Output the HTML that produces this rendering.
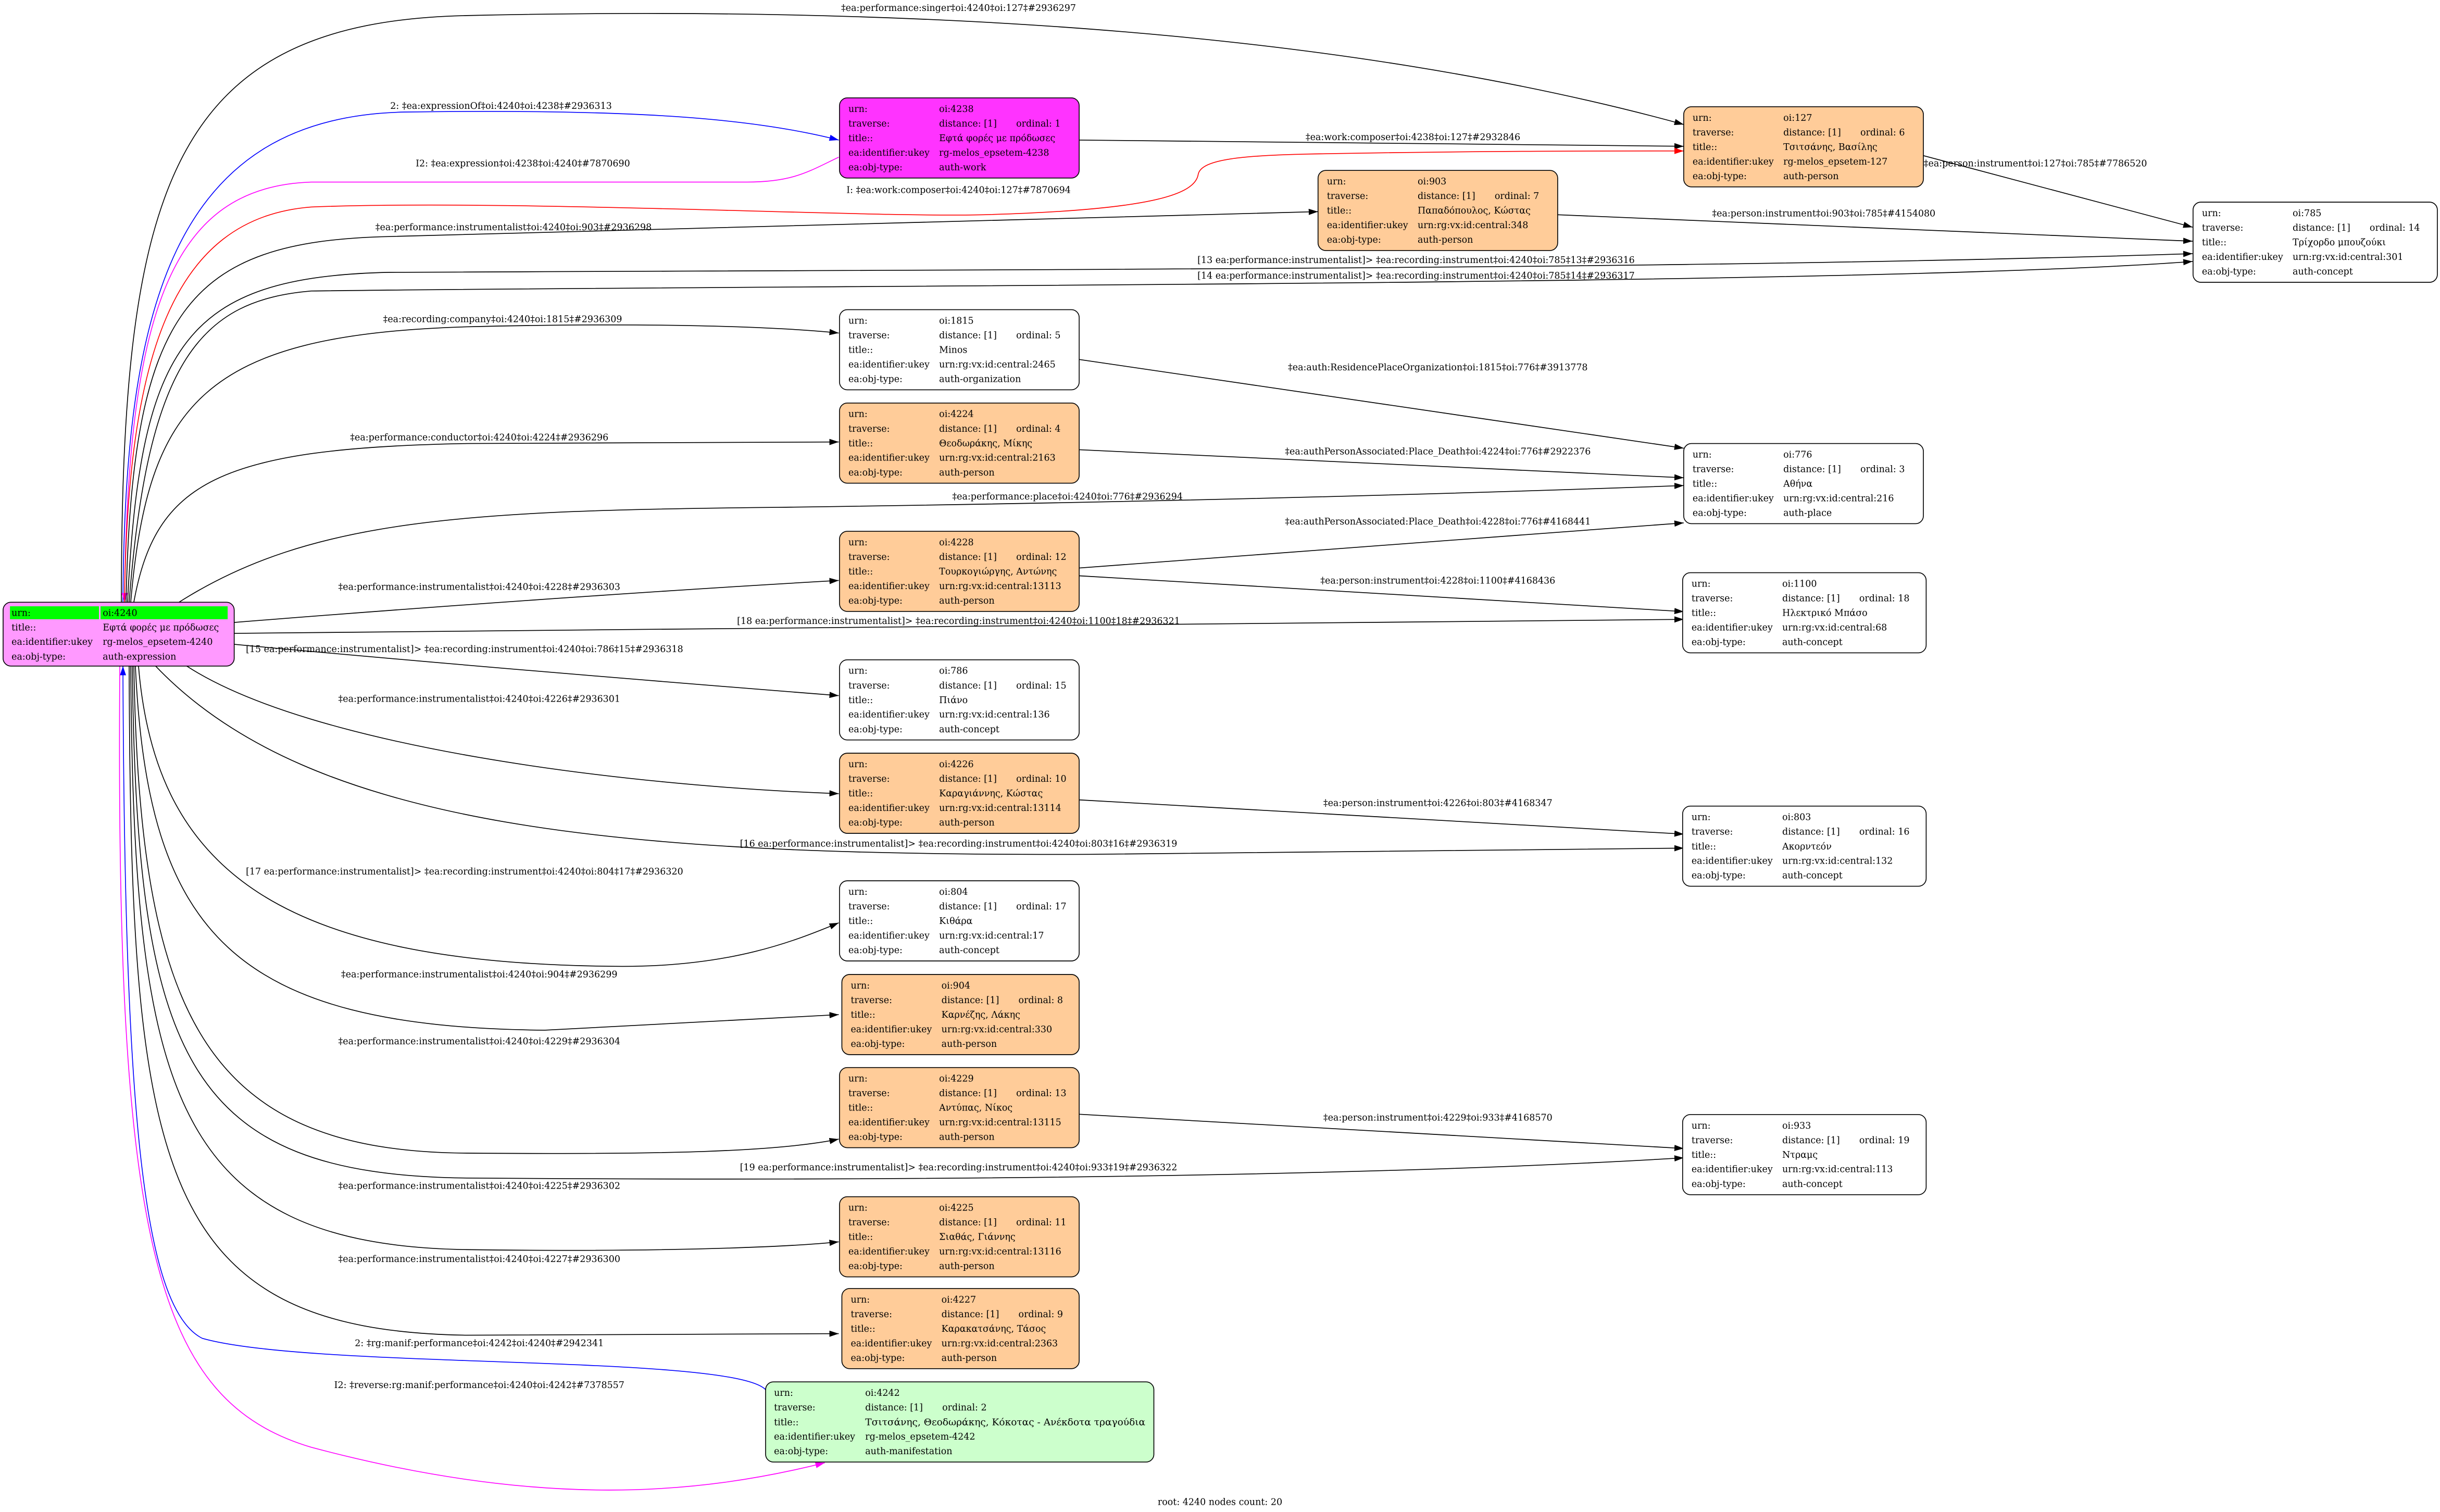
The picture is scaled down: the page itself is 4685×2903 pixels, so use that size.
<!DOCTYPE html>
<html><head><meta charset="utf-8"><style>
html,body{margin:0;padding:0;background:#fff}
svg{display:block}
text{font-family:"DejaVu Serif","Liberation Serif",serif;font-size:5.85px;fill:#000}
.e{fill:none;stroke:#000;stroke-width:0.55}
.n{stroke:#000;stroke-width:0.55}
</style></head><body>
<svg width="4685" height="2903" viewBox="0 0 1568 971.6" preserveAspectRatio="none" xmlns="http://www.w3.org/2000/svg">
<defs>
<marker id="ak" markerUnits="userSpaceOnUse" markerWidth="6" markerHeight="4" refX="6" refY="2" orient="auto"><path d="M0,0L6,2L0,4z" fill="#000"/></marker>
<marker id="ab" markerUnits="userSpaceOnUse" markerWidth="6" markerHeight="4" refX="6" refY="2" orient="auto"><path d="M0,0L6,2L0,4z" fill="#00f"/></marker>
<marker id="am" markerUnits="userSpaceOnUse" markerWidth="6" markerHeight="4" refX="6" refY="2" orient="auto"><path d="M0,0L6,2L0,4z" fill="#f0f"/></marker>
<marker id="ar" markerUnits="userSpaceOnUse" markerWidth="6" markerHeight="4" refX="6" refY="2" orient="auto"><path d="M0,0L6,2L0,4z" fill="#f00"/></marker>
</defs>
<rect width="1568" height="971.6" fill="#fff"/>

<!-- edges -->
<path class="e" marker-end="url(#ak)" d="M78,387 C78,120 110,14 300,10 C650,2 900,30 1082,80"/>
<path class="e" style="stroke:#00f" marker-end="url(#ab)" d="M79,387 C80,200 110,75 260,72 C400,70 480,75 539,90"/>
<path class="e" style="stroke:#f0f" marker-end="url(#am)" d="M539,101 C520,110 510,117 480,117 L200,117 C110,120 82,200 80,387"/>
<path class="e" marker-end="url(#ak)" d="M693.5,90 L1082,94"/>
<path class="e" style="stroke:#f00" marker-end="url(#ar)" d="M80,387 C82,230 110,140 200,133 C330,128 560,140 632,138 C740,135 768,125 770,112 C772,102 800,100 840,99 C950,97 1020,97 1082,97"/>
<path class="e" marker-end="url(#ak)" d="M81,387 C85,200 120,155 250,152 C500,147 700,140 847,136"/>
<path class="e" marker-end="url(#ak)" d="M1001,138 L1409,155"/>
<path class="e" marker-end="url(#ak)" d="M1236,100 L1409,146"/>
<path class="e" marker-end="url(#ak)" d="M82,387 C90,220 120,178 250,175 C700,173 1100,173 1409,163"/>
<path class="e" marker-end="url(#ak)" d="M83,387 C95,230 130,193 200,187 C500,183 1200,184 1409,168"/>
<path class="e" marker-end="url(#ak)" d="M84,387 C95,260 130,215 300,210 C420,207 500,210 539,214"/>
<path class="e" marker-end="url(#ak)" d="M693.5,231 L1082,288"/>
<path class="e" marker-end="url(#ak)" d="M86,387 C100,310 140,288 300,285 L539,284"/>
<path class="e" marker-end="url(#ak)" d="M693.5,289 L1082,307"/>
<path class="e" marker-end="url(#ak)" d="M115,387 C200,333 300,328 500,326 C800,322 1000,315 1082,312"/>
<path class="e" marker-end="url(#ak)" d="M693.5,365 L1082,336"/>
<path class="e" marker-end="url(#ak)" d="M150,400 C300,388 450,378 539,373"/>
<path class="e" marker-end="url(#ak)" d="M693.5,370 L1082,393"/>
<path class="e" marker-end="url(#ak)" d="M150,407 L1082,398"/>
<path class="e" marker-end="url(#ak)" d="M150,414 C300,428 450,440 539,447"/>
<path class="e" marker-end="url(#ak)" d="M120,428 C200,480 400,505 539,510"/>
<path class="e" marker-end="url(#ak)" d="M693.5,514 L1082,536"/>
<path class="e" marker-end="url(#ak)" d="M100,428 C200,533 400,550 700,549 L1082,545"/>
<path class="e" marker-end="url(#ak)" d="M89,428 C100,560 180,620 400,621 C470,621 510,605 539,593"/>
<path class="e" marker-end="url(#ak)" d="M87,428 C95,600 150,660 350,662 L539,652"/>
<path class="e" marker-end="url(#ak)" d="M86,428 C90,650 130,740 300,741 C430,742 500,740 539,732"/>
<path class="e" marker-end="url(#ak)" d="M693.5,716 L1082,738"/>
<path class="e" marker-end="url(#ak)" d="M85,428 C88,680 120,755 300,757 C700,760 950,752 1082,744"/>
<path class="e" marker-end="url(#ak)" d="M84,428 C86,700 110,800 300,803 C450,805 520,800 539,798"/>
<path class="e" marker-end="url(#ak)" d="M83,428 C84,750 100,855 300,858 L539,857"/>
<path class="e" style="stroke:#00f" marker-end="url(#ab)" d="M492,893 C470,870 200,880 130,860 C90,840 80,700 79,428"/>
<path class="e" style="stroke:#f0f" marker-end="url(#am)" d="M77,428 C74,800 100,900 200,930 C350,970 450,960 530,940"/>

<!-- edge labels -->
<g text-anchor="middle">
<text x="616" y="7">‡ea:performance:singer‡oi:4240‡oi:127‡#2936297</text>
<text x="322" y="70">2: ‡ea:expressionOf‡oi:4240‡oi:4238‡#2936313</text>
<text x="336" y="107">I2: ‡ea:expression‡oi:4238‡oi:4240‡#7870690</text>
<text x="908" y="90">‡ea:work:composer‡oi:4238‡oi:127‡#2932846</text>
<text x="616" y="124">I: ‡ea:work:composer‡oi:4240‡oi:127‡#7870694</text>
<text x="1308" y="107">‡ea:person:instrument‡oi:127‡oi:785‡#7786520</text>
<text x="330" y="148">‡ea:performance:instrumentalist‡oi:4240‡oi:903‡#2936298</text>
<text x="1172" y="139">‡ea:person:instrument‡oi:903‡oi:785‡#4154080</text>
<text x="910" y="169">[13 ea:performance:instrumentalist]&gt; ‡ea:recording:instrument‡oi:4240‡oi:785‡13‡#2936316</text>
<text x="910" y="179">[14 ea:performance:instrumentalist]&gt; ‡ea:recording:instrument‡oi:4240‡oi:785‡14‡#2936317</text>
<text x="323" y="207">‡ea:recording:company‡oi:4240‡oi:1815‡#2936309</text>
<text x="924" y="238">‡ea:auth:ResidencePlaceOrganization‡oi:1815‡oi:776‡#3913778</text>
<text x="308" y="283">‡ea:performance:conductor‡oi:4240‡oi:4224‡#2936296</text>
<text x="924" y="292">‡ea:authPersonAssociated:Place_Death‡oi:4224‡oi:776‡#2922376</text>
<text x="686" y="321">‡ea:performance:place‡oi:4240‡oi:776‡#2936294</text>
<text x="924" y="337">‡ea:authPersonAssociated:Place_Death‡oi:4228‡oi:776‡#4168441</text>
<text x="308" y="379">‡ea:performance:instrumentalist‡oi:4240‡oi:4228‡#2936303</text>
<text x="924" y="375">‡ea:person:instrument‡oi:4228‡oi:1100‡#4168436</text>
<text x="616" y="401">[18 ea:performance:instrumentalist]&gt; ‡ea:recording:instrument‡oi:4240‡oi:1100‡18‡#2936321</text>
<text x="308" y="451">‡ea:performance:instrumentalist‡oi:4240‡oi:4226‡#2936301</text>
<text x="924" y="518">‡ea:person:instrument‡oi:4226‡oi:803‡#4168347</text>
<text x="616" y="544">[16 ea:performance:instrumentalist]&gt; ‡ea:recording:instrument‡oi:4240‡oi:803‡16‡#2936319</text>
<text x="308" y="628">‡ea:performance:instrumentalist‡oi:4240‡oi:904‡#2936299</text>
<text x="308" y="671">‡ea:performance:instrumentalist‡oi:4240‡oi:4229‡#2936304</text>
<text x="924" y="720">‡ea:person:instrument‡oi:4229‡oi:933‡#4168570</text>
<text x="616" y="752">[19 ea:performance:instrumentalist]&gt; ‡ea:recording:instrument‡oi:4240‡oi:933‡19‡#2936322</text>
<text x="308" y="764">‡ea:performance:instrumentalist‡oi:4240‡oi:4225‡#2936302</text>
<text x="308" y="811">‡ea:performance:instrumentalist‡oi:4240‡oi:4227‡#2936300</text>
<text x="308" y="865">2: ‡rg:manif:performance‡oi:4242‡oi:4240‡#2942341</text>
<text x="308" y="892">I2: ‡reverse:rg:manif:performance‡oi:4240‡oi:4242‡#7378557</text>
<text x="784" y="967">root: 4240 nodes count: 20</text>
</g>
<text x="158" y="419">[15 ea:performance:instrumentalist]&gt; ‡ea:recording:instrument‡oi:4240‡oi:786‡15‡#2936318</text>
<text x="158" y="562">[17 ea:performance:instrumentalist]&gt; ‡ea:recording:instrument‡oi:4240‡oi:804‡17‡#2936320</text>

<!-- root node -->
<g transform="translate(2,387)">
<rect class="n" x="0" y="0" width="148.5" height="41" rx="5" fill="#ff99ff"/>
<rect x="4.4" y="2.6" width="57.2" height="8.3" fill="#00ff00"/>
<rect x="62.6" y="2.6" width="81.7" height="8.3" fill="#00ff00"/>
<text x="5.4" y="8.7">urn:</text><text x="64" y="8.7">oi:4240</text>
<text x="5.4" y="18.1">title::</text><text x="64" y="18.1">Εφτά φορές με πρόδωσες</text>
<text x="5.4" y="27.4">ea:identifier:ukey</text><text x="64" y="27.4">rg-melos_epsetem-4240</text>
<text x="5.4" y="36.8">ea:obj-type:</text><text x="64" y="36.8">auth-expression</text>
</g>

<g transform="translate(539.5,62.9)"><rect class="n" width="154" height="51.5" rx="5" fill="#ff33ff"/>
<text x="5.7" y="9">urn:</text><text x="64" y="9">oi:4238</text>
<text x="5.7" y="18.4">traverse:</text><text x="64" y="18.4">distance: [1]</text><text x="113.5" y="18.4">ordinal: 1</text>
<text x="5.7" y="27.8">title::</text><text x="64" y="27.8">Εφτά φορές με πρόδωσες</text>
<text x="5.7" y="37.1">ea:identifier:ukey</text><text x="64" y="37.1">rg-melos_epsetem-4238</text>
<text x="5.7" y="46.5">ea:obj-type:</text><text x="64" y="46.5">auth-work</text></g>

<g transform="translate(1082,68.6)"><rect class="n" width="154" height="51.5" rx="5" fill="#ffcc99"/>
<text x="5.7" y="9">urn:</text><text x="64" y="9">oi:127</text>
<text x="5.7" y="18.4">traverse:</text><text x="64" y="18.4">distance: [1]</text><text x="113.5" y="18.4">ordinal: 6</text>
<text x="5.7" y="27.8">title::</text><text x="64" y="27.8">Τσιτσάνης, Βασίλης</text>
<text x="5.7" y="37.1">ea:identifier:ukey</text><text x="64" y="37.1">rg-melos_epsetem-127</text>
<text x="5.7" y="46.5">ea:obj-type:</text><text x="64" y="46.5">auth-person</text></g>

<g transform="translate(847,109.5)"><rect class="n" width="154" height="51.5" rx="5" fill="#ffcc99"/>
<text x="5.7" y="9">urn:</text><text x="64" y="9">oi:903</text>
<text x="5.7" y="18.4">traverse:</text><text x="64" y="18.4">distance: [1]</text><text x="113.5" y="18.4">ordinal: 7</text>
<text x="5.7" y="27.8">title::</text><text x="64" y="27.8">Παπαδόπουλος, Κώστας</text>
<text x="5.7" y="37.1">ea:identifier:ukey</text><text x="64" y="37.1">urn:rg:vx:id:central:348</text>
<text x="5.7" y="46.5">ea:obj-type:</text><text x="64" y="46.5">auth-person</text></g>

<g transform="translate(1409.3,129.9)"><rect class="n" width="157" height="51.5" rx="5" fill="#fff"/>
<text x="5.7" y="9">urn:</text><text x="64" y="9">oi:785</text>
<text x="5.7" y="18.4">traverse:</text><text x="64" y="18.4">distance: [1]</text><text x="113.5" y="18.4">ordinal: 14</text>
<text x="5.7" y="27.8">title::</text><text x="64" y="27.8">Τρίχορδο μπουζούκι</text>
<text x="5.7" y="37.1">ea:identifier:ukey</text><text x="64" y="37.1">urn:rg:vx:id:central:301</text>
<text x="5.7" y="46.5">ea:obj-type:</text><text x="64" y="46.5">auth-concept</text></g>

<g transform="translate(539.5,199)"><rect class="n" width="154" height="51.5" rx="5" fill="#fff"/>
<text x="5.7" y="9">urn:</text><text x="64" y="9">oi:1815</text>
<text x="5.7" y="18.4">traverse:</text><text x="64" y="18.4">distance: [1]</text><text x="113.5" y="18.4">ordinal: 5</text>
<text x="5.7" y="27.8">title::</text><text x="64" y="27.8">Minos</text>
<text x="5.7" y="37.1">ea:identifier:ukey</text><text x="64" y="37.1">urn:rg:vx:id:central:2465</text>
<text x="5.7" y="46.5">ea:obj-type:</text><text x="64" y="46.5">auth-organization</text></g>

<g transform="translate(539.5,259)"><rect class="n" width="154" height="51.5" rx="5" fill="#ffcc99"/>
<text x="5.7" y="9">urn:</text><text x="64" y="9">oi:4224</text>
<text x="5.7" y="18.4">traverse:</text><text x="64" y="18.4">distance: [1]</text><text x="113.5" y="18.4">ordinal: 4</text>
<text x="5.7" y="27.8">title::</text><text x="64" y="27.8">Θεοδωράκης, Μίκης</text>
<text x="5.7" y="37.1">ea:identifier:ukey</text><text x="64" y="37.1">urn:rg:vx:id:central:2163</text>
<text x="5.7" y="46.5">ea:obj-type:</text><text x="64" y="46.5">auth-person</text></g>

<g transform="translate(1082,285)"><rect class="n" width="154" height="51.5" rx="5" fill="#fff"/>
<text x="5.7" y="9">urn:</text><text x="64" y="9">oi:776</text>
<text x="5.7" y="18.4">traverse:</text><text x="64" y="18.4">distance: [1]</text><text x="113.5" y="18.4">ordinal: 3</text>
<text x="5.7" y="27.8">title::</text><text x="64" y="27.8">Αθήνα</text>
<text x="5.7" y="37.1">ea:identifier:ukey</text><text x="64" y="37.1">urn:rg:vx:id:central:216</text>
<text x="5.7" y="46.5">ea:obj-type:</text><text x="64" y="46.5">auth-place</text></g>

<g transform="translate(539.5,341.4)"><rect class="n" width="154" height="51.5" rx="5" fill="#ffcc99"/>
<text x="5.7" y="9">urn:</text><text x="64" y="9">oi:4228</text>
<text x="5.7" y="18.4">traverse:</text><text x="64" y="18.4">distance: [1]</text><text x="113.5" y="18.4">ordinal: 12</text>
<text x="5.7" y="27.8">title::</text><text x="64" y="27.8">Τουρκογιώργης, Αντώνης</text>
<text x="5.7" y="37.1">ea:identifier:ukey</text><text x="64" y="37.1">urn:rg:vx:id:central:13113</text>
<text x="5.7" y="46.5">ea:obj-type:</text><text x="64" y="46.5">auth-person</text></g>

<g transform="translate(1081.3,368)"><rect class="n" width="156.5" height="51.5" rx="5" fill="#fff"/>
<text x="5.7" y="9">urn:</text><text x="64" y="9">oi:1100</text>
<text x="5.7" y="18.4">traverse:</text><text x="64" y="18.4">distance: [1]</text><text x="113.5" y="18.4">ordinal: 18</text>
<text x="5.7" y="27.8">title::</text><text x="64" y="27.8">Ηλεκτρικό Μπάσο</text>
<text x="5.7" y="37.1">ea:identifier:ukey</text><text x="64" y="37.1">urn:rg:vx:id:central:68</text>
<text x="5.7" y="46.5">ea:obj-type:</text><text x="64" y="46.5">auth-concept</text></g>

<g transform="translate(539.5,424)"><rect class="n" width="154" height="51.5" rx="5" fill="#fff"/>
<text x="5.7" y="9">urn:</text><text x="64" y="9">oi:786</text>
<text x="5.7" y="18.4">traverse:</text><text x="64" y="18.4">distance: [1]</text><text x="113.5" y="18.4">ordinal: 15</text>
<text x="5.7" y="27.8">title::</text><text x="64" y="27.8">Πιάνο</text>
<text x="5.7" y="37.1">ea:identifier:ukey</text><text x="64" y="37.1">urn:rg:vx:id:central:136</text>
<text x="5.7" y="46.5">ea:obj-type:</text><text x="64" y="46.5">auth-concept</text></g>

<g transform="translate(539.5,484)"><rect class="n" width="154" height="51.5" rx="5" fill="#ffcc99"/>
<text x="5.7" y="9">urn:</text><text x="64" y="9">oi:4226</text>
<text x="5.7" y="18.4">traverse:</text><text x="64" y="18.4">distance: [1]</text><text x="113.5" y="18.4">ordinal: 10</text>
<text x="5.7" y="27.8">title::</text><text x="64" y="27.8">Καραγιάννης, Κώστας</text>
<text x="5.7" y="37.1">ea:identifier:ukey</text><text x="64" y="37.1">urn:rg:vx:id:central:13114</text>
<text x="5.7" y="46.5">ea:obj-type:</text><text x="64" y="46.5">auth-person</text></g>

<g transform="translate(1081.3,518)"><rect class="n" width="156.5" height="51.5" rx="5" fill="#fff"/>
<text x="5.7" y="9">urn:</text><text x="64" y="9">oi:803</text>
<text x="5.7" y="18.4">traverse:</text><text x="64" y="18.4">distance: [1]</text><text x="113.5" y="18.4">ordinal: 16</text>
<text x="5.7" y="27.8">title::</text><text x="64" y="27.8">Ακορντεόν</text>
<text x="5.7" y="37.1">ea:identifier:ukey</text><text x="64" y="37.1">urn:rg:vx:id:central:132</text>
<text x="5.7" y="46.5">ea:obj-type:</text><text x="64" y="46.5">auth-concept</text></g>

<g transform="translate(539.5,566)"><rect class="n" width="154" height="51.5" rx="5" fill="#fff"/>
<text x="5.7" y="9">urn:</text><text x="64" y="9">oi:804</text>
<text x="5.7" y="18.4">traverse:</text><text x="64" y="18.4">distance: [1]</text><text x="113.5" y="18.4">ordinal: 17</text>
<text x="5.7" y="27.8">title::</text><text x="64" y="27.8">Κιθάρα</text>
<text x="5.7" y="37.1">ea:identifier:ukey</text><text x="64" y="37.1">urn:rg:vx:id:central:17</text>
<text x="5.7" y="46.5">ea:obj-type:</text><text x="64" y="46.5">auth-concept</text></g>

<g transform="translate(541,626.2)"><rect class="n" width="152.5" height="51.5" rx="5" fill="#ffcc99"/>
<text x="5.7" y="9">urn:</text><text x="64" y="9">oi:904</text>
<text x="5.7" y="18.4">traverse:</text><text x="64" y="18.4">distance: [1]</text><text x="113.5" y="18.4">ordinal: 8</text>
<text x="5.7" y="27.8">title::</text><text x="64" y="27.8">Καρνέζης, Λάκης</text>
<text x="5.7" y="37.1">ea:identifier:ukey</text><text x="64" y="37.1">urn:rg:vx:id:central:330</text>
<text x="5.7" y="46.5">ea:obj-type:</text><text x="64" y="46.5">auth-person</text></g>

<g transform="translate(539.5,686)"><rect class="n" width="154" height="51.5" rx="5" fill="#ffcc99"/>
<text x="5.7" y="9">urn:</text><text x="64" y="9">oi:4229</text>
<text x="5.7" y="18.4">traverse:</text><text x="64" y="18.4">distance: [1]</text><text x="113.5" y="18.4">ordinal: 13</text>
<text x="5.7" y="27.8">title::</text><text x="64" y="27.8">Αντύπας, Νίκος</text>
<text x="5.7" y="37.1">ea:identifier:ukey</text><text x="64" y="37.1">urn:rg:vx:id:central:13115</text>
<text x="5.7" y="46.5">ea:obj-type:</text><text x="64" y="46.5">auth-person</text></g>

<g transform="translate(1081.3,716.2)"><rect class="n" width="156.5" height="51.5" rx="5" fill="#fff"/>
<text x="5.7" y="9">urn:</text><text x="64" y="9">oi:933</text>
<text x="5.7" y="18.4">traverse:</text><text x="64" y="18.4">distance: [1]</text><text x="113.5" y="18.4">ordinal: 19</text>
<text x="5.7" y="27.8">title::</text><text x="64" y="27.8">Ντραμς</text>
<text x="5.7" y="37.1">ea:identifier:ukey</text><text x="64" y="37.1">urn:rg:vx:id:central:113</text>
<text x="5.7" y="46.5">ea:obj-type:</text><text x="64" y="46.5">auth-concept</text></g>

<g transform="translate(539.5,769)"><rect class="n" width="154" height="51.5" rx="5" fill="#ffcc99"/>
<text x="5.7" y="9">urn:</text><text x="64" y="9">oi:4225</text>
<text x="5.7" y="18.4">traverse:</text><text x="64" y="18.4">distance: [1]</text><text x="113.5" y="18.4">ordinal: 11</text>
<text x="5.7" y="27.8">title::</text><text x="64" y="27.8">Σιαθάς, Γιάννης</text>
<text x="5.7" y="37.1">ea:identifier:ukey</text><text x="64" y="37.1">urn:rg:vx:id:central:13116</text>
<text x="5.7" y="46.5">ea:obj-type:</text><text x="64" y="46.5">auth-person</text></g>

<g transform="translate(541,828)"><rect class="n" width="152.5" height="51.5" rx="5" fill="#ffcc99"/>
<text x="5.7" y="9">urn:</text><text x="64" y="9">oi:4227</text>
<text x="5.7" y="18.4">traverse:</text><text x="64" y="18.4">distance: [1]</text><text x="113.5" y="18.4">ordinal: 9</text>
<text x="5.7" y="27.8">title::</text><text x="64" y="27.8">Καρακατσάνης, Τάσος</text>
<text x="5.7" y="37.1">ea:identifier:ukey</text><text x="64" y="37.1">urn:rg:vx:id:central:2363</text>
<text x="5.7" y="46.5">ea:obj-type:</text><text x="64" y="46.5">auth-person</text></g>

<g transform="translate(492,888)"><rect class="n" width="249.5" height="51.5" rx="5" fill="#ccffcc"/>
<text x="5.4" y="9">urn:</text><text x="64" y="9">oi:4242</text>
<text x="5.4" y="18.4">traverse:</text><text x="64" y="18.4">distance: [1]</text><text x="113.5" y="18.4">ordinal: 2</text>
<text x="5.4" y="27.8">title::</text><text x="64" y="27.8" textLength="180" lengthAdjust="spacingAndGlyphs">Τσιτσάνης, Θεοδωράκης, Κόκοτας - Ανέκδοτα τραγούδια</text>
<text x="5.4" y="37.1">ea:identifier:ukey</text><text x="64" y="37.1">rg-melos_epsetem-4242</text>
<text x="5.4" y="46.5">ea:obj-type:</text><text x="64" y="46.5">auth-manifestation</text></g>
</svg>
</body></html>
